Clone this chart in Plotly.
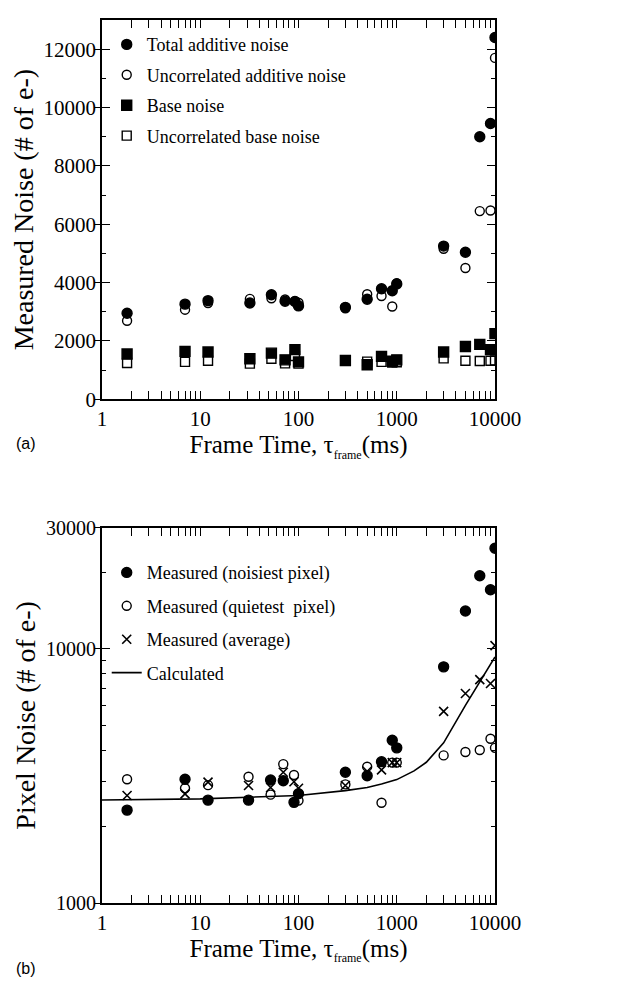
import plotly.graph_objects as go

# ---------------- data: panel (a) ----------------
t_a = [1.8, 7, 12, 32, 53, 73, 92, 100, 300, 500, 700, 900, 1000, 3000, 5000, 7000, 9000, 10000]
total_additive = [2950, 3260, 3380, 3300, 3580, 3360, 3350, 3200, 3150, 3430, 3790, 3720, 3950, 5250, 5040, 9000, 9450, 12400]
uncorr_additive = [2690, 3070, 3300, 3440, 3460, 3420, 3360, 3310, 3120, 3600, 3540, 3180, 3980, 5160, 4500, 6450, 6470, 11700]
base_noise = [1550, 1640, 1620, 1390, 1580, 1350, 1700, 1280, 1330, 1180, 1470, 1300, 1350, 1620, 1810, 1880, 1700, 2250]
uncorr_base = [1240, 1280, 1320, 1220, 1390, 1230, 1480, 1220, 1320, 1290, 1280, 1260, 1270, 1400, 1320, 1310, 1320, 1330]

# ---------------- data: panel (b) ----------------
t_b = [1.8, 7, 12, 31, 52, 70, 90, 100, 300, 500, 700, 900, 1000, 3000, 5000, 7000, 9000, 10000]
noisiest = [2320, 3070, 2540, 2540, 3050, 3030, 2490, 2690, 3270, 3170, 3600, 4370, 4080, 8500, 14100, 19400, 17100, 24900]
quietest = [3070, 2830, 2910, 3140, 2670, 3520, 3190, 2530, 2930, 3440, 2480, 3570, 3570, 3810, 3930, 4000, 4430, 4080]
average = [2650, 2690, 2990, 2900, 2850, 3270, 3000, 2830, 2900, 3300, 3340, 3570, 3570, 5680, 6680, 7570, 7310, 10300]

t_calc = [1, 10, 100, 300, 500, 700, 1000, 1500, 2000, 3000, 5000, 7000, 10000]
calculated = [2545, 2570, 2650, 2770, 2850, 2940, 3060, 3310, 3580, 4270, 6000, 7400, 9300]

# ---------------- tick labels ----------------
x_tickvals = [1, 10, 100, 1000, 10000]
x_ticktext = ["1", "10", "100", "1000", "10000"]
ya_tickvals = [0, 2000, 4000, 6000, 8000, 10000, 12000]
ya_ticktext = ["0", "2000", "4000", "6000", "8000", "10000", "12000"]
yb_tickvals = [1000, 10000, 30000]
yb_ticktext = ["1000", "10000", "30000"]

SERIF = "Liberation Serif"
BLACK = "black"

x_minor = [m * 10 ** d for d in range(4) for m in range(2, 10)]
yb_minor = [m * 1000 for m in range(2, 10)] + [20000]

fig = go.Figure()

def add(x, y, name, symbol, size, xa, ya, legend, group, lw=1.4):
    fig.add_trace(go.Scatter(
        x=x, y=y, name=name, mode="markers", xaxis=xa, yaxis=ya,
        legend=legend, legendgroup=group,
        marker=dict(symbol=symbol, size=size, color=BLACK,
                    line=dict(color=BLACK, width=lw)),
    ))

# panel (a)
add(t_a, total_additive, "Total additive noise", "circle", 10, "x", "y", "legend", "a1")
add(t_a, uncorr_additive, "Uncorrelated additive noise", "circle-open", 9, "x", "y", "legend", "a2")
add(t_a, base_noise, "Base noise", "square", 10, "x", "y", "legend", "a3")
add(t_a, uncorr_base, "Uncorrelated base noise", "square-open", 9, "x", "y", "legend", "a4")

# panel (b)
add(t_b, noisiest, "Measured (noisiest pixel)", "circle", 10, "x2", "y2", "legend2", "b1")
add(t_b, quietest, "Measured (quietest  pixel)", "circle-open", 9, "x2", "y2", "legend2", "b2")
add(t_b, average, "Measured (average)", "x-thin", 9, "x2", "y2", "legend2", "b3", lw=1.6)
fig.add_trace(go.Scatter(
    x=t_calc, y=calculated, name="Calculated", mode="lines", xaxis="x2", yaxis="y2",
    legend="legend2", legendgroup="b4", line=dict(color=BLACK, width=1.6),
))

# empty traces to carry the overlay axes (outside major ticks on the left)
fig.add_trace(go.Scatter(x=[], y=[], xaxis="x", yaxis="y3", showlegend=False, hoverinfo="skip"))
fig.add_trace(go.Scatter(x=[], y=[], xaxis="x2", yaxis="y4", showlegend=False, hoverinfo="skip"))

TOP_DOM = [0.5705, 1.0]
BOT_DOM = [0.0, 0.425]

XTITLE = "Frame Time, τ<sub><span style='font-size:12px'>frame</span></sub>(ms)"

xcommon = dict(
    type="log", range=[0, 4], tickvals=x_tickvals, ticktext=x_ticktext,
    ticks="inside", ticklen=8, tickwidth=1.2, tickcolor=BLACK,
    minor=dict(tickvals=x_minor, ticks="inside", ticklen=4, tickcolor=BLACK, tickwidth=1),
    showline=True, linecolor=BLACK, linewidth=1.8, mirror="allticks",
    showgrid=False, zeroline=False,
    tickfont=dict(family=SERIF, size=21, color=BLACK),
    title=dict(text=XTITLE, font=dict(family=SERIF, size=25, color=BLACK), standoff=4),
)

fig.update_layout(
    width=636, height=998,
    margin=dict(l=94, r=149, t=1, b=103),
    paper_bgcolor="white", plot_bgcolor="white",
    font=dict(family=SERIF, color=BLACK),
    xaxis=dict(xcommon, domain=[0, 1], anchor="y"),
    xaxis2=dict(xcommon, domain=[0, 1], anchor="y2"),
    yaxis=dict(
        domain=TOP_DOM, anchor="x", range=[0, 13000],
        tickvals=ya_tickvals, ticktext=ya_ticktext,
        ticks="inside", ticklen=8, tickcolor=BLACK, tickwidth=1.2,
        minor=dict(dtick=1000, tick0=0, ticks="inside", ticklen=4, tickcolor=BLACK),
        showline=True, linecolor=BLACK, linewidth=1.8, mirror="allticks",
        showgrid=False, zeroline=False,
        tickfont=dict(family=SERIF, size=21, color=BLACK),
        title=dict(text="Measured Noise (# of e-)",
                   font=dict(family=SERIF, size=28, color=BLACK), standoff=2),
    ),
    yaxis3=dict(
        domain=TOP_DOM, anchor="x", overlaying="y", side="left", range=[0, 13000],
        tickvals=ya_tickvals, ticks="outside", ticklen=7, tickcolor=BLACK, tickwidth=1.2,
        showticklabels=False, showline=False, showgrid=False, zeroline=False,
    ),
    yaxis2=dict(
        domain=BOT_DOM, anchor="x2", type="log", range=[3, 4.4771],
        tickvals=yb_tickvals, ticktext=yb_ticktext,
        ticks="inside", ticklen=8, tickcolor=BLACK, tickwidth=1.2,
        minor=dict(tickvals=yb_minor, ticks="inside", ticklen=4, tickcolor=BLACK),
        showline=True, linecolor=BLACK, linewidth=1.8, mirror="allticks",
        showgrid=False, zeroline=False,
        tickfont=dict(family=SERIF, size=20, color=BLACK),
        title=dict(text="Pixel Noise (# of e-)",
                   font=dict(family=SERIF, size=28, color=BLACK), standoff=2),
    ),
    yaxis4=dict(
        domain=BOT_DOM, anchor="x2", overlaying="y2", side="left", type="log",
        range=[3, 4.4771],
        tickvals=yb_tickvals, ticks="outside", ticklen=7, tickcolor=BLACK, tickwidth=1.2,
        showticklabels=False, showline=False, showgrid=False, zeroline=False,
    ),
    legend=dict(
        x=0.012, y=0.993, xanchor="left", yanchor="top",
        bgcolor="rgba(0,0,0,0)", font=dict(family=SERIF, size=18, color=BLACK),
        tracegroupgap=4, itemwidth=30, traceorder="grouped",
    ),
    legend2=dict(
        x=0.012, y=0.395, xanchor="left", yanchor="top",
        bgcolor="rgba(0,0,0,0)", font=dict(family=SERIF, size=18, color=BLACK),
        tracegroupgap=7, itemwidth=30, traceorder="grouped",
    ),
    showlegend=True,
    annotations=[
        dict(text="(a)", xref="paper", yref="paper", x=-0.225, y=0.52,
             xanchor="left", yanchor="middle", showarrow=False,
             font=dict(family="Liberation Sans", size=16, color=BLACK)),
        dict(text="(b)", xref="paper", yref="paper", x=-0.225, y=-0.074,
             xanchor="left", yanchor="middle", showarrow=False,
             font=dict(family="Liberation Sans", size=16, color=BLACK)),
    ],
)

fig.write_html("out.html")
